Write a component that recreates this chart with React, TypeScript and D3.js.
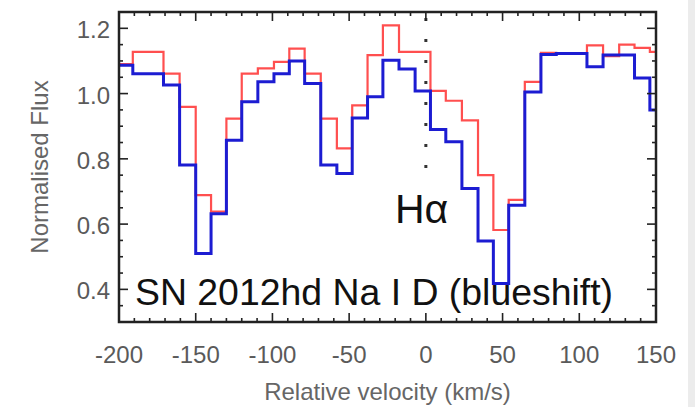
import React from "react";
import * as d3 from "d3";

// bin centres (km/s), one flux value per bin
const velocity = [
  -206, -196, -186, -176, -166, -155, -145, -135, -125, -115, -104, -94, -84, -74, -63, -53, -43, -33,
  -23, -12, -2, 8, 18, 29, 39, 49, 59, 70, 80, 90, 100, 110, 121, 131, 141, 151, 161,
];

const fluxBlue = [
  1.087, 1.087, 1.061, 1.061, 1.026, 0.781, 0.51, 0.632, 0.857, 0.975, 1.036, 1.061, 1.1, 1.031, 0.781,
  0.755, 0.925, 0.99, 1.102, 1.075, 1.008, 0.89, 0.852, 0.709, 0.548, 0.418, 0.658, 1.005, 1.12, 1.123,
  1.123, 1.082, 1.118, 1.118, 1.048, 0.95, 0.95,
];

const fluxRed = [
  1.09, 1.09, 1.128, 1.128, 1.061, 0.959, 0.689, 0.638, 0.923, 1.061, 1.077, 1.097, 1.138, 1.061, 0.923,
  0.832, 0.964, 1.118, 1.209, 1.128, 1.128, 1.008, 0.978, 0.918, 0.75, 0.582, 0.674, 1.036, 1.125, 1.123,
  1.123, 1.148, 1.115, 1.15, 1.14, 1.128, 1.128,
];

const xTicks = [-200, -150, -100, -50, 0, 50, 100, 150];
const yTicks = [0.4, 0.6, 0.8, 1.0, 1.2];

// H-alpha marker: velocity and the flux range it covers
const halphaV = 0;
const halphaRange = [0.72, 1.25];

const W = 695;
const H = 407;
const plot = { left: 119, right: 656, top: 12, bottom: 322 };

export default function App() {
  const x = d3.scaleLinear().domain([-200, 150]).range([plot.left, plot.right]);
  const y = d3.scaleLinear().domain([0.3, 1.25]).range([plot.bottom, plot.top]);

  const line = (vals: number[]) =>
    d3
      .line<number>()
      .x((_, i) => x(velocity[i]))
      .y((d) => y(d))
      .curve(d3.curveStep)(vals) || "";

  const xMinor = d3.range(-200, 151, 10);
  const yMinor = d3.range(0.3, 1.2501, 0.05);
  const tk = "#222";

  return (
    <svg width={W} height={H} style={{ position: "absolute", left: 0, top: 0, background: "#fff" }}>
      <defs>
        <clipPath id="plotClip">
          <rect x={plot.left} y={plot.top} width={plot.right - plot.left} height={plot.bottom - plot.top} />
        </clipPath>
      </defs>
      <rect x={688} y={0} width={7} height={H} fill="#ececec" />

      {/* spectra */}
      <g clipPath="url(#plotClip)" fill="none">
        <path d={line(fluxRed)} stroke="#ff3c3c" strokeWidth={2.2} strokeOpacity={0.9} />
        <path d={line(fluxBlue)} stroke="#1c1cd2" strokeWidth={3} />
        <line
          x1={x(halphaV)}
          x2={x(halphaV)}
          y1={y(halphaRange[1])}
          y2={y(halphaRange[0])}
          stroke="#333"
          strokeWidth={3}
          strokeDasharray="3 18"
          strokeDashoffset={-6}
        />
      </g>

      {/* frame + ticks */}
      <rect
        x={plot.left}
        y={plot.top}
        width={plot.right - plot.left}
        height={plot.bottom - plot.top}
        fill="none"
        stroke={tk}
        strokeWidth={2.5}
      />
      <g stroke={tk} strokeWidth={1.6}>
        {xMinor.map((v) => {
          const len = xTicks.includes(v) ? 9 : 4;
          return (
            <g key={"xm" + v}>
              <line x1={x(v)} x2={x(v)} y1={plot.bottom} y2={plot.bottom - len} />
              <line x1={x(v)} x2={x(v)} y1={plot.top} y2={plot.top + len} />
            </g>
          );
        })}
        {yMinor.map((v) => {
          const major = yTicks.some((t) => Math.abs(t - v) < 1e-6);
          const len = major ? 9 : 4;
          return (
            <g key={"ym" + v.toFixed(2)}>
              <line x1={plot.left} x2={plot.left + len} y1={y(v)} y2={y(v)} />
              <line x1={plot.right} x2={plot.right - len} y1={y(v)} y2={y(v)} />
            </g>
          );
        })}
      </g>

      {/* tick labels */}
      <g fontFamily="Liberation Sans, Arial, sans-serif" fontSize={24} fill="#5a5a5a">
        {xTicks.map((v) => (
          <text key={"xl" + v} x={x(v)} y={363} textAnchor="middle">
            {v}
          </text>
        ))}
        {yTicks.map((v) => (
          <text key={"yl" + v} x={110} y={y(v) + 10} textAnchor="end">
            {v.toFixed(1)}
          </text>
        ))}
      </g>

      {/* axis titles */}
      <g fontFamily="Liberation Sans, Arial, sans-serif" fontSize={24} fill="#666">
        <text x={(plot.left + plot.right) / 2} y={400} textAnchor="middle">
          Relative velocity (km/s)
        </text>
        <text transform={`translate(48,${167}) rotate(-90)`} textAnchor="middle">
          Normalised Flux
        </text>
      </g>

      {/* annotations */}
      <g fontFamily="Liberation Sans, Arial, sans-serif" fill="#111">
        <text x={395} y={223} fontSize={41}>
          Hα
        </text>
        <text x={135} y={305} fontSize={37} textLength={478} lengthAdjust="spacingAndGlyphs">
          SN 2012hd Na I D (blueshift)
        </text>
      </g>
    </svg>
  );
}
